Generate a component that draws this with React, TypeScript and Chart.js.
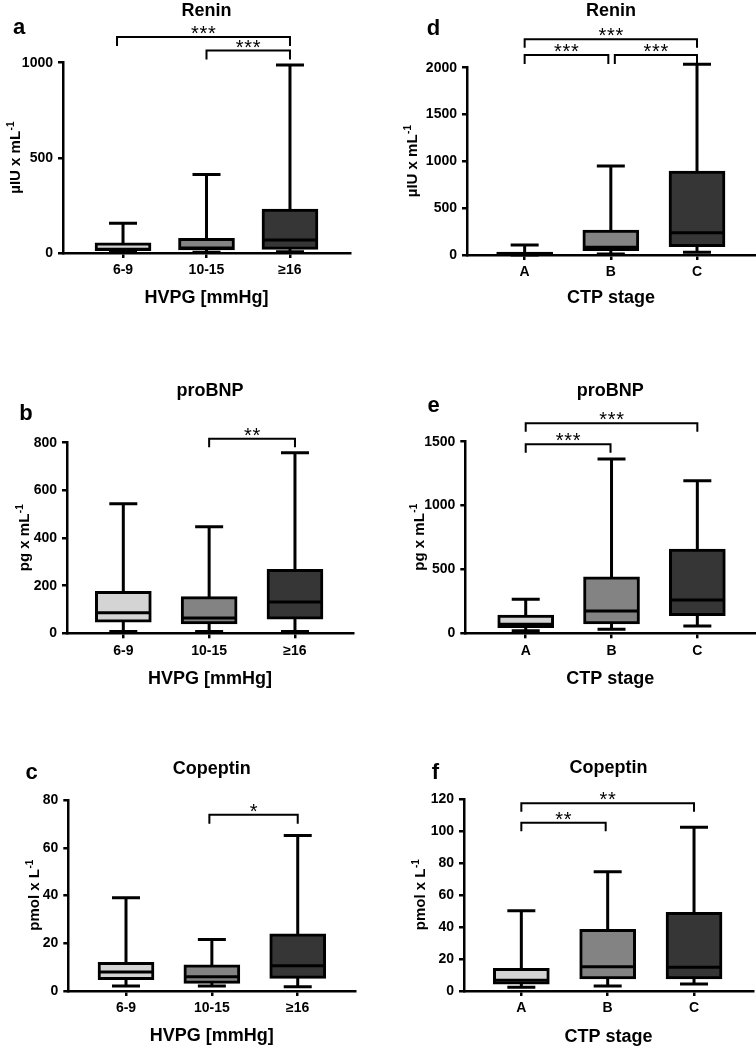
import { useEffect, useRef } from "react";
import { Chart, registerables } from "chart.js";

Chart.register(...registerables);

const FONT = "'Liberation Sans', Arial, Helvetica, sans-serif";

const HVPG_LABELS = ["6-9", "10-15", "≥16"];
const CTP_LABELS = ["A", "B", "C"];
const GROUP_COLORS = ["#d4d4d4", "#838383", "#363636"];

// a: Renin by HVPG
const reninHvpgMin = [3, 4, 7];
const reninHvpgQ1 = [12, 16, 19];
const reninHvpgMedian = [20, 26, 68];
const reninHvpgQ3 = [54, 77, 231];
const reninHvpgMax = [156, 413, 988];
const reninHvpgTicks = [0, 500, 1000];
const reninHvpgSig: [number, number, string][] = [[0, 2, "***"], [1, 2, "***"]];

// b: proBNP by HVPG
const probnpHvpgMin = [8, 8, 8];
const probnpHvpgQ1 = [47, 39, 59];
const probnpHvpgMedian = [86, 64, 131];
const probnpHvpgQ3 = [176, 154, 269];
const probnpHvpgMax = [544, 447, 758];
const probnpHvpgTicks = [0, 200, 400, 600, 800];
const probnpHvpgSig: [number, number, string][] = [[1, 2, "**"]];

// c: Copeptin by HVPG
const copeptinHvpgMin = [2.1, 2.1, 1.8];
const copeptinHvpgQ1 = [4.7, 3.2, 5.3];
const copeptinHvpgMedian = [8.0, 6.0, 10.6];
const copeptinHvpgQ3 = [12.0, 11.0, 23.9];
const copeptinHvpgMax = [39.1, 21.6, 65.1];
const copeptinHvpgTicks = [0, 20, 40, 60, 80];
const copeptinHvpgSig: [number, number, string][] = [[1, 2, "*"]];

// d: Renin by CTP stage
const reninCtpMin = [1, 11, 29];
const reninCtpQ1 = [2, 46, 89];
const reninCtpMedian = [12, 82, 238];
const reninCtpQ3 = [32, 267, 897];
const reninCtpMax = [107, 950, 2036];
const reninCtpTicks = [0, 500, 1000, 1500, 2000];
const reninCtpSig: [number, number, string][] = [[0, 2, "***"], [0, 1, "***"], [1, 2, "***"]];

// e: proBNP by CTP stage
const probnpCtpMin = [20, 31, 57];
const probnpCtpQ1 = [44, 73, 138];
const probnpCtpMedian = [70, 175, 261];
const probnpCtpQ3 = [143, 443, 660];
const probnpCtpMax = [266, 1365, 1195];
const probnpCtpTicks = [0, 500, 1000, 1500];
const probnpCtpSig: [number, number, string][] = [[0, 2, "***"], [0, 1, "***"]];

// f: Copeptin by CTP stage
const copeptinCtpMin = [2.3, 3.1, 4.4];
const copeptinCtpQ1 = [4.2, 7.5, 7.5];
const copeptinCtpMedian = [6.7, 15.2, 14.8];
const copeptinCtpQ3 = [14.2, 38.5, 49.2];
const copeptinCtpMax = [50.2, 74.6, 102.3];
const copeptinCtpTicks = [0, 20, 40, 60, 80, 100, 120];
const copeptinCtpSig: [number, number, string][] = [[0, 2, "**"], [0, 1, "**"]];

type Bracket = { y: number; leg: number; insetL?: number; insetR?: number };

type PanelDef = {
  letter: string;
  title: string;
  labels: string[];
  min: number[];
  q1: number[];
  median: number[];
  q3: number[];
  max: number[];
  ticks: number[];
  sig: [number, number, string][];
  xTitle: string;
  yTitle: string;
  left: number;
  top: number;
  w: number;
  h: number;
  area: { l: number; r: number; t: number; b: number };
  xRange: [number, number];
  titleY: number;
  letterPos: [number, number];
  yTitleX: number;
  xTitlePad: number;
  brackets: Bracket[];
};

const PANELS: PanelDef[] = [
  {
    letter: "a", title: "Renin", labels: HVPG_LABELS,
    min: reninHvpgMin, q1: reninHvpgQ1, median: reninHvpgMedian, q3: reninHvpgQ3, max: reninHvpgMax,
    ticks: reninHvpgTicks, sig: reninHvpgSig, xTitle: "HVPG [mmHg]", yTitle: "µIU x mL",
    left: 0, top: 0, w: 378, h: 330,
    area: { l: 63, r: 350, t: 62.7, b: 253 }, xRange: [-0.719, 2.719],
    titleY: 11.5, letterPos: [19, 33.5], yTitleX: 16, xTitlePad: 21.2,
    brackets: [{ y: 37, leg: 9, insetL: -6 }, { y: 50.5, leg: 9 }],
  },
  {
    letter: "d", title: "Renin", labels: CTP_LABELS,
    min: reninCtpMin, q1: reninCtpQ1, median: reninCtpMedian, q3: reninCtpQ3, max: reninCtpMax,
    ticks: reninCtpTicks, sig: reninCtpSig, xTitle: "CTP stage", yTitle: "µIU x mL",
    left: 378, top: 0, w: 378, h: 330,
    area: { l: 89, r: 377, t: 67.7, b: 255 }, xRange: [-0.669, 2.673],
    titleY: 11.5, letterPos: [55.5, 34.5], yTitleX: 35, xTitlePad: 21.2,
    brackets: [{ y: 39.3, leg: 8.5 }, { y: 55, leg: 9, insetR: 2.5 }, { y: 55, leg: 9, insetL: 4 }],
  },
  {
    letter: "b", title: "proBNP", labels: HVPG_LABELS,
    min: probnpHvpgMin, q1: probnpHvpgQ1, median: probnpHvpgMedian, q3: probnpHvpgQ3, max: probnpHvpgMax,
    ticks: probnpHvpgTicks, sig: probnpHvpgSig, xTitle: "HVPG [mmHg]", yTitle: "pg x mL",
    left: 0, top: 370, w: 378, h: 330,
    area: { l: 67, r: 353, t: 72.7, b: 263.3 }, xRange: [-0.656, 2.676],
    titleY: 20.7, letterPos: [26, 50], yTitleX: 25, xTitlePad: 10.2,
    brackets: [{ y: 68.7, leg: 8.5 }],
  },
  {
    letter: "e", title: "proBNP", labels: CTP_LABELS,
    min: probnpCtpMin, q1: probnpCtpQ1, median: probnpCtpMedian, q3: probnpCtpQ3, max: probnpCtpMax,
    ticks: probnpCtpTicks, sig: probnpCtpSig, xTitle: "CTP stage", yTitle: "pg x mL",
    left: 378, top: 370, w: 378, h: 330,
    area: { l: 87.3, r: 377, t: 71.7, b: 263.3 }, xRange: [-0.704, 2.672],
    titleY: 20.7, letterPos: [55.5, 41.7], yTitleX: 41.5, xTitlePad: 10.2,
    brackets: [{ y: 53.3, leg: 8.5 }, { y: 74.3, leg: 8.5, insetR: 1 }],
  },
  {
    letter: "c", title: "Copeptin", labels: HVPG_LABELS,
    min: copeptinHvpgMin, q1: copeptinHvpgQ1, median: copeptinHvpgMedian, q3: copeptinHvpgQ3, max: copeptinHvpgMax,
    ticks: copeptinHvpgTicks, sig: copeptinHvpgSig, xTitle: "HVPG [mmHg]", yTitle: "pmol x L",
    left: 0, top: 740, w: 378, h: 310,
    area: { l: 68.3, r: 355, t: 60, b: 251 }, xRange: [-0.672, 2.667],
    titleY: 29.3, letterPos: [31.7, 39.3], yTitleX: 35, xTitlePad: 3.2,
    brackets: [{ y: 74.7, leg: 9, insetL: -2.5 }],
  },
  {
    letter: "f", title: "Copeptin", labels: CTP_LABELS,
    min: copeptinCtpMin, q1: copeptinCtpQ1, median: copeptinCtpMedian, q3: copeptinCtpQ3, max: copeptinCtpMax,
    ticks: copeptinCtpTicks, sig: copeptinCtpSig, xTitle: "CTP stage", yTitle: "pmol x L",
    left: 378, top: 740, w: 378, h: 310,
    area: { l: 86, r: 375, t: 59, b: 251 }, xRange: [-0.664, 2.683],
    titleY: 28.3, letterPos: [57.5, 39.3], yTitleX: 43, xTitlePad: 2.5,
    brackets: [{ y: 63.3, leg: 8.5 }, { y: 82.7, leg: 8.5, insetR: 2 }],
  },
];

const CAP = 14;
const LINE = 3;
const STAR_GAP = 8.5;

function makeDecor(p: PanelDef) {
  return {
    id: "boxDecor" + p.letter,
    beforeDatasetsDraw(chart: any) {
      const ctx = chart.ctx;
      const xs = chart.scales.x;
      const ys = chart.scales.y;
      ctx.save();
      ctx.strokeStyle = "#000";
      ctx.lineWidth = LINE;
      p.labels.forEach((_, i) => {
        const cx = xs.getPixelForValue(i);
        const yMin = ys.getPixelForValue(p.min[i]);
        const yMax = ys.getPixelForValue(p.max[i]);
        ctx.beginPath();
        ctx.moveTo(cx, yMin);
        ctx.lineTo(cx, yMax);
        ctx.moveTo(cx - CAP, yMax);
        ctx.lineTo(cx + CAP, yMax);
        ctx.moveTo(cx - CAP, yMin);
        ctx.lineTo(cx + CAP, yMin);
        ctx.stroke();
      });
      ctx.restore();
    },
    afterDatasetsDraw(chart: any) {
      const ctx = chart.ctx;
      const ys = chart.scales.y;
      const meta = chart.getDatasetMeta(0);
      ctx.save();
      ctx.strokeStyle = "#000";
      ctx.lineWidth = LINE;
      p.labels.forEach((_, i) => {
        const bar = meta.data[i];
        const half = bar.width / 2;
        const y = ys.getPixelForValue(p.median[i]);
        ctx.beginPath();
        ctx.moveTo(bar.x - half + 1, y);
        ctx.lineTo(bar.x + half - 1, y);
        ctx.stroke();
      });
      ctx.restore();
    },
    afterDraw(chart: any) {
      const ctx = chart.ctx;
      const xs = chart.scales.x;
      const area = chart.chartArea;
      ctx.save();
      ctx.fillStyle = "#000";
      // title
      ctx.font = `bold 18px ${FONT}`;
      ctx.textAlign = "center";
      ctx.textBaseline = "middle";
      ctx.fillText(p.title, (area.left + area.right) / 2, p.titleY);
      // panel letter
      ctx.font = `bold 22px ${FONT}`;
      ctx.textBaseline = "alphabetic";
      ctx.fillText(p.letter, p.letterPos[0], p.letterPos[1]);
      // y title with superscript
      ctx.save();
      ctx.translate(p.yTitleX, (area.top + area.bottom) / 2);
      ctx.rotate(-Math.PI / 2);
      ctx.font = `bold 15px ${FONT}`;
      const wMain = ctx.measureText(p.yTitle).width;
      ctx.font = `bold 10px ${FONT}`;
      const sup = "-1";
      const wSup = ctx.measureText(sup).width;
      const start = -(wMain + wSup) / 2;
      ctx.textAlign = "left";
      ctx.textBaseline = "middle";
      ctx.font = `bold 15px ${FONT}`;
      ctx.fillText(p.yTitle, start, 0);
      ctx.font = `bold 10px ${FONT}`;
      ctx.fillText(sup, start + wMain + 0.5, -5);
      ctx.restore();
      // significance brackets
      ctx.strokeStyle = "#000";
      ctx.lineWidth = 2;
      p.sig.forEach(([from, to, label], k) => {
        const br = p.brackets[k];
        const x1 = xs.getPixelForValue(from) + (br.insetL || 0);
        const x2 = xs.getPixelForValue(to) - (br.insetR || 0);
        ctx.beginPath();
        ctx.moveTo(x1, br.y + br.leg);
        ctx.lineTo(x1, br.y);
        ctx.lineTo(x2, br.y);
        ctx.lineTo(x2, br.y + br.leg);
        ctx.stroke();
        ctx.font = `20px ${FONT}`;
        ctx.textAlign = "center";
        ctx.textBaseline = "alphabetic";
        const n = label.length;
        const mid = (x1 + x2) / 2;
        for (let s = 0; s < n; s++) {
          const sx = mid + (s - (n - 1) / 2) * STAR_GAP;
          ctx.fillText(label[s], sx, br.y + 3);
        }
      });
      ctx.restore();
    },
  };
}

function Panel({ p }: { p: PanelDef }) {
  const ref = useRef<HTMLCanvasElement | null>(null);
  useEffect(() => {
    if (!ref.current) return;
    const tickFont = { family: FONT, size: 14, weight: "bold" as const };
    const axisGrid = {
      drawOnChartArea: false,
      drawTicks: true,
      offset: false,
      tickLength: 5,
      color: "#000",
      lineWidth: 2.5,
    };
    const axisBorder = { display: true, color: "#000", width: 2.5 };
    const chart = new Chart(ref.current, {
      type: "bar",
      data: {
        datasets: [
          {
            data: p.labels.map((_, i) => ({ x: i, y: [p.q1[i], p.q3[i]] })) as any,
            backgroundColor: GROUP_COLORS,
            borderColor: "#000",
            borderWidth: LINE,
            borderSkipped: false,
            barThickness: 56,
          },
        ],
      },
      options: {
        responsive: false,
        animation: false,
        devicePixelRatio: 1,
        layout: {
          padding: { top: p.area.t, right: p.w - p.area.r, bottom: 0, left: 0 },
        },
        plugins: {
          legend: { display: false },
          tooltip: { enabled: false },
          title: { display: false },
        },
        scales: {
          x: {
            type: "linear",
            min: p.xRange[0],
            max: p.xRange[1],
            offset: false,
            afterBuildTicks: (s: any) => {
              s.ticks = p.labels.map((_, i) => ({ value: i }));
            },
            afterFit: (s: any) => {
              s.height = p.h - p.area.b;
            },
            ticks: {
              callback: (v: any) => p.labels[Math.round(Number(v))] ?? "",
              font: tickFont,
              color: "#000",
              padding: 4,
              autoSkip: false,
              maxRotation: 0,
            },
            grid: axisGrid,
            border: axisBorder,
            title: {
              display: true,
              text: p.xTitle,
              color: "#000",
              font: { family: FONT, size: 18, weight: "bold" },
              padding: { top: 0, bottom: p.xTitlePad },
            },
          },
          y: {
            type: "linear",
            min: 0,
            max: p.ticks[p.ticks.length - 1],
            afterBuildTicks: (s: any) => {
              s.ticks = p.ticks.map((v) => ({ value: v }));
            },
            afterFit: (s: any) => {
              s.width = p.area.l;
            },
            ticks: {
              callback: (v: any) => String(v),
              font: tickFont,
              color: "#000",
              padding: 5,
            },
            grid: axisGrid,
            border: axisBorder,
          },
        },
      } as any,
      plugins: [makeDecor(p)],
    });
    return () => chart.destroy();
  }, [p]);
  return (
    <div style={{ position: "absolute", left: p.left, top: p.top, width: p.w, height: p.h }}>
      <canvas ref={ref} width={p.w} height={p.h} style={{ display: "block", width: p.w, height: p.h }} />
    </div>
  );
}

export default function App() {
  return (
    <div style={{ position: "absolute", left: 0, top: 0, width: 756, height: 1050, background: "#fff" }}>
      {PANELS.map((p) => (
        <Panel key={p.letter} p={p} />
      ))}
    </div>
  );
}
